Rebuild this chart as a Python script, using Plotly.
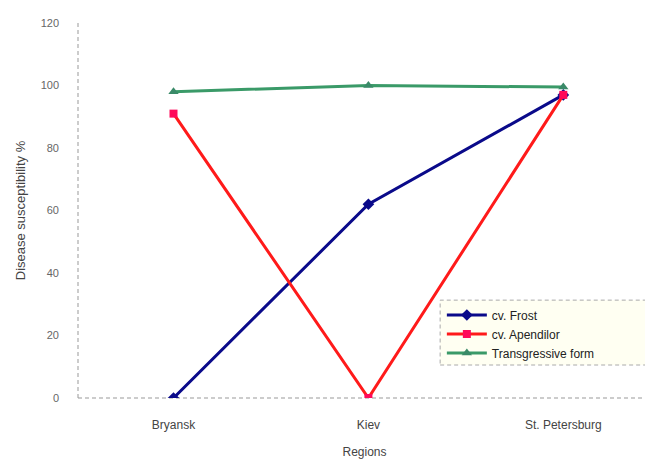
import plotly.graph_objects as go

regions = ["Bryansk", "Kiev", "St. Petersburg"]
frost = [0, 62, 97]
apendilor = [91, 0, 97]
transgressive = [98, 100, 99.5]
series_names = ["cv. Frost", "cv. Apendilor", "Transgressive form"]
y_ticks = [0, 20, 40, 60, 80, 100, 120]

fig = go.Figure()
fig.add_trace(go.Scatter(x=[0, 1, 2], y=frost, name=series_names[0], mode="lines+markers",
                         line=dict(color="#0a0a8a", width=3),
                         marker=dict(symbol="diamond", size=9, color="#0a0a8a")))
fig.add_trace(go.Scatter(x=[0, 1, 2], y=apendilor, name=series_names[1], mode="lines+markers",
                         line=dict(color="#ff1a1a", width=3),
                         marker=dict(symbol="square", size=8, color="#ff0a5a")))
fig.add_trace(go.Scatter(x=[0, 1, 2], y=transgressive, name=series_names[2], mode="lines+markers",
                         line=dict(color="#3a9a68", width=3),
                         marker=dict(symbol="triangle-up", size=9, color="#3a8a68")))

fig.update_layout(
    width=645, height=453,
    margin=dict(l=70, r=2, t=15, b=63),
    plot_bgcolor="white", paper_bgcolor="white",
    font=dict(family="Liberation Sans, Arial, sans-serif", size=11, color="#555555"),
    xaxis=dict(range=[-0.49, 2.45], tickvals=[0, 1, 2], ticktext=regions,
               showgrid=False, zeroline=False, showline=False, ticks="",
               ticklabelstandoff=18, automargin=False,
               tickfont=dict(size=12, color="#444444"),
               title=dict(text="Regions", standoff=16, font=dict(size=12, color="#444444"))),
    yaxis=dict(range=[0, 120], tickvals=y_ticks, showgrid=False, zeroline=False,
               showline=False, ticks="", ticklabelstandoff=18, automargin=False,
               tickfont=dict(size=11, color="#666666"),
               title=dict(text="Disease susceptibility %", standoff=12, font=dict(size=13, color="#444444"))),
    legend=dict(x=0.635, y=0.26, xanchor="left", yanchor="top",
                bgcolor="rgba(0,0,0,0)", borderwidth=0,
                font=dict(size=12, color="#222222"), tracegroupgap=0, itemwidth=40),
    shapes=[
        dict(type="rect", xref="paper", yref="paper", x0=0.632, x1=1.0, y0=0.088, y1=0.261,
             fillcolor="#fffff2", line=dict(color="#aaaaaa", width=1, dash="4px,3px"), layer="below"),
        dict(type="line", xref="paper", yref="paper", x0=0, x1=0, y0=0, y1=1,
             line=dict(color="#999999", width=1, dash="4px,3px"), layer="below"),
        dict(type="line", xref="paper", yref="paper", x0=0, x1=1, y0=0, y1=0,
             line=dict(color="#999999", width=1, dash="4px,3px"), layer="below"),
    ],
)

fig.write_html("out.html")
